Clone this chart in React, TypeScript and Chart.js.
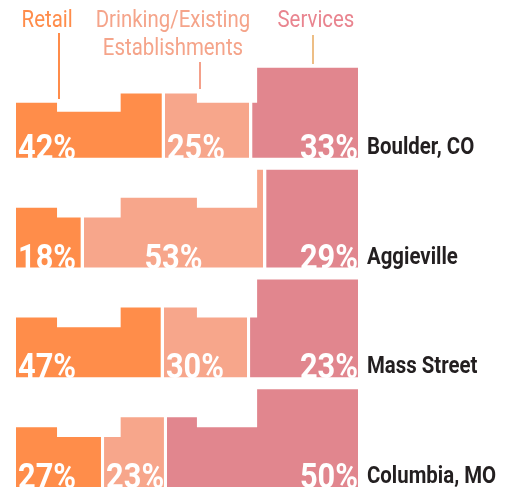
import React, { useEffect, useRef } from "react";
import { Chart, registerables } from "chart.js";

Chart.register(...registerables);

// ---- data ----
const categories = ["Boulder, CO", "Aggieville", "Mass Street", "Columbia, MO"];
const seriesNames = ["Retail", "Drinking/Existing Establishments", "Services"];
const retailPct = [42, 18, 47, 27];
const drinkingPct = [25, 53, 30, 23];
const servicesPct = [33, 29, 23, 50];
// share of the bar width each block is actually drawn with in the graphic
const retailDrawn = [43.1, 19.4, 42.8, 25.3];
const drinkingDrawn = [25.5, 53.3, 25.2, 18.4];
// skyline silhouette: building edges (% of width) and building heights
const skylineBreaks = [12.0, 30.6, 52.9, 70.5];
const skylineHeights = [60, 50, 70, 60, 98];
const rowHeightScale = [0.92, 1, 1, 1];

// ---- styles ----
const COLORS = ["#FF8D4A", "#F7A68B", "#E1868E"];
const HEADER_COLORS = ["#FF8C4A", "#F5A48A", "#E9848F"];
const CONNECTOR_COLORS = ["#FF8C4A", "#F4A08A", "#EDBE85"];
const ROW_SPAN = 110;
const GAP = 0.45;
const DRINK_ALIGN = ["left", "center", "left", "left"];

const heightAt = (x: number) => {
  let i = 0;
  while (i < skylineBreaks.length && x >= skylineBreaks[i]) i++;
  return skylineHeights[i];
};

function segmentPoints(a: number, b: number, base: number, s: number) {
  const pts = [{ x: a, y: base + heightAt(a) * s }];
  for (const br of skylineBreaks) {
    if (br > a && br < b) pts.push({ x: br, y: base + heightAt(br) * s });
  }
  pts.push({ x: b, y: base + heightAt(pts[pts.length - 1].x) * s });
  return pts;
}

function drawText(
  ctx: CanvasRenderingContext2D,
  text: string,
  x: number,
  y: number,
  align: string,
  font: string,
  color: string,
  sx: number
) {
  ctx.save();
  ctx.font = font;
  ctx.fillStyle = color;
  ctx.textAlign = "left";
  ctx.textBaseline = "alphabetic";
  const w = ctx.measureText(text).width * sx;
  const left = align === "left" ? x : align === "right" ? x - w : x - w / 2;
  ctx.translate(left, y);
  ctx.scale(sx, 1);
  ctx.fillText(text, 0, 0);
  ctx.restore();
}

const labelPlugin = {
  id: "skylineLabels",
  afterDatasetsDraw(chart: any) {
    const ctx = chart.ctx as CanvasRenderingContext2D;
    const xs = chart.scales.x;
    const ys = chart.scales.y;
    const pctFont = "bold 35px Roboto";
    const nameFont = "bold 24px Roboto";
    categories.forEach((name, r) => {
      const base = (categories.length - 1 - r) * ROW_SPAN;
      const yb = ys.getPixelForValue(base);
      const b1 = retailDrawn[r];
      const b2 = retailDrawn[r] + drinkingDrawn[r];
      // retail
      drawText(ctx, retailPct[r] + "%", xs.getPixelForValue(0) + 2, yb + 1, "left", pctFont, "#ffffff", 0.88);
      // drinking
      const da = DRINK_ALIGN[r];
      const dx =
        da === "center"
          ? (xs.getPixelForValue(b1) + xs.getPixelForValue(b2)) / 2
          : xs.getPixelForValue(b1 + GAP) + 2;
      drawText(ctx, drinkingPct[r] + "%", dx, yb + 1, da, pctFont, "#ffffff", 0.88);
      // services
      drawText(ctx, servicesPct[r] + "%", xs.getPixelForValue(100), yb + 1, "right", pctFont, "#ffffff", 0.88);
      // row name
      drawText(ctx, name, xs.getPixelForValue(100) + 9, yb - 4, "left", nameFont, "#231F20", 0.85);
    });

    // headers
    const hFont = "24px Roboto";
    drawText(ctx, seriesNames[0], xs.getPixelForValue(9.1), 27, "center", hFont, HEADER_COLORS[0], 0.85);
    drawText(ctx, "Drinking/Existing", xs.getPixelForValue(45.9), 27, "center", hFont, HEADER_COLORS[1], 0.85);
    drawText(ctx, "Establishments", xs.getPixelForValue(45.9), 55, "center", hFont, HEADER_COLORS[1], 0.85);
    drawText(ctx, seriesNames[2], xs.getPixelForValue(87.7), 27, "center", hFont, HEADER_COLORS[2], 0.85);

    // connectors
    const conn = [
      { x: 12.6, y0: 33, y1: 99 },
      { x: 53.8, y0: 62, y1: 89 },
      { x: 86.8, y0: 35, y1: 64 },
    ];
    conn.forEach((c, i) => {
      const px = Math.round(xs.getPixelForValue(c.x));
      ctx.save();
      ctx.strokeStyle = CONNECTOR_COLORS[i];
      ctx.lineWidth = 2;
      ctx.beginPath();
      ctx.moveTo(px, c.y0);
      ctx.lineTo(px, c.y1);
      ctx.stroke();
      ctx.restore();
    });
  },
};

export default function App() {
  const ref = useRef<HTMLCanvasElement>(null);
  useEffect(() => {
    if (!ref.current) return;
    const datasets: any[] = [];
    categories.forEach((_, r) => {
      const base = (categories.length - 1 - r) * ROW_SPAN;
      const s = rowHeightScale[r];
      const b1 = retailDrawn[r];
      const b2 = retailDrawn[r] + drinkingDrawn[r];
      const segs = [
        [0, b1 - GAP],
        [b1 + GAP, b2 - GAP],
        [b2 + GAP, 100],
      ];
      segs.forEach(([a, b], k) => {
        datasets.push({
          label: seriesNames[k] + " " + categories[r],
          data: segmentPoints(a, b, base, s),
          stepped: "before",
          fill: { value: base },
          backgroundColor: COLORS[k],
          borderColor: "rgba(0,0,0,0)",
          borderWidth: 0,
          pointRadius: 0,
          pointHoverRadius: 0,
        });
      });
    });
    const chart = new Chart(ref.current, {
      type: "line",
      data: { datasets },
      options: {
        animation: false,
        responsive: false,
        events: [],
        layout: { padding: { left: 16, right: 150, top: 48, bottom: 9 } },
        scales: {
          x: { type: "linear", min: 0, max: 100, display: false },
          y: { type: "linear", min: 0, max: 440, display: false },
        },
        plugins: { legend: { display: false }, tooltip: { enabled: false } },
      },
      plugins: [labelPlugin],
    } as any);
    return () => chart.destroy();
  }, []);
  return (
    <div style={{ position: "fixed", left: 0, top: 0, width: 508, height: 496, background: "#fff" }}>
      <canvas ref={ref} width={508} height={496} style={{ display: "block" }} />
    </div>
  );
}
